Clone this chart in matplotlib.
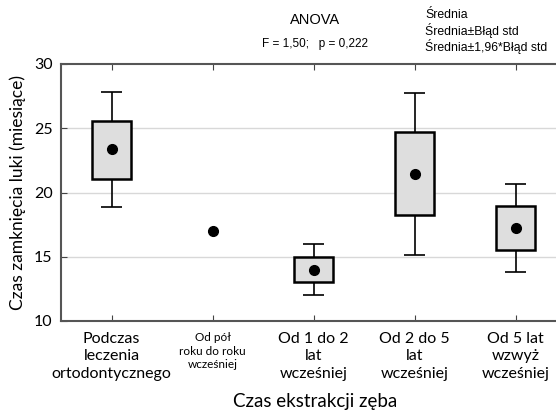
import matplotlib
matplotlib.use("Agg")
import matplotlib.pyplot as plt
from matplotlib.patches import Rectangle

categories = ["Podczas\nleczenia\nortodontycznego", "Od pół\nroku do roku\nwcześniej",
              "Od 1 do 2\nlat\nwcześniej", "Od 2 do 5\nlat\nwcześniej", "Od 5 lat\nwzwyż\nwcześniej"]
means = [23.35, 17.0, 14.0, 21.45, 17.2]
box_low = [21.05, None, 13.05, 18.25, 15.5]
box_high = [25.6, None, 15.0, 24.7, 18.98]
wh_low = [18.9, None, 12.05, 15.15, 13.8]
wh_high = [27.8, None, 16.0, 27.78, 20.67]
yticks = [10, 15, 20, 25, 30]

fig = plt.figure(figsize=(5.56, 4.16), dpi=100)
ax = fig.add_axes([61/556, 95/416, (556-61)/556, (321-64)/416])
ax.set_xlim(-0.5, 4.4)
ax.set_ylim(10, 30)

for y in [15, 20, 25]:
    ax.axhline(y, color="#d8d8d8", lw=1, zorder=0)

bw = 0.39
cw = 0.2
for i, m in enumerate(means):
    if box_low[i] is not None:
        ax.vlines(i, wh_low[i], box_low[i], color="black", lw=1.2, zorder=2)
        ax.vlines(i, box_high[i], wh_high[i], color="black", lw=1.2, zorder=2)
        ax.hlines([wh_low[i], wh_high[i]], i - cw/2, i + cw/2, color="black", lw=1.2, zorder=2)
        ax.add_patch(Rectangle((i - bw/2, box_low[i]), bw, box_high[i] - box_low[i],
                               facecolor="#dedede", edgecolor="black", lw=1.8, zorder=3))
    ax.plot(i, m, "o", color="black", ms=7, zorder=4)

ax.set_xticks(range(len(categories)))
ax.set_xticklabels([])
for i, lab in enumerate(categories):
    fs = 8.5 if i == 1 else 11.5
    ax.text(i, 9.15, lab, ha="center", va="top", fontsize=fs, family="Lato",
            linespacing=1.3, transform=ax.transData)
ax.set_yticks(yticks)
ax.set_yticklabels([str(t) for t in yticks], fontsize=11.5, family="Lato")
ax.tick_params(axis="both", direction="in", length=4, color="#444444", top=True, right=False)
ax.tick_params(axis="y", pad=6)
for s in ["left", "bottom", "top"]:
    ax.spines[s].set_color("#555555")
    ax.spines[s].set_linewidth(1.5)
ax.spines["right"].set_visible(False)

ax.set_ylabel("Czas zamknięcia luki (miesiące)", fontsize=12.5, family="Lato", labelpad=6)
fig.text(315/556, 1 - 402/416, "Czas ekstrakcji zęba", ha="center", va="center",
         fontsize=13.5, family="Lato")

fig.text(315/556, 1 - 20/416, "ANOVA", ha="center", va="center", fontsize=10.5, family="Liberation Sans")
fig.text(315/556, 1 - 44/416, "F = 1,50;   p = 0,222", ha="center", va="center", fontsize=8.5, family="Liberation Sans")
for j, t in enumerate(["Średnia", "Średnia±Błąd std", "Średnia±1,96*Błąd std"]):
    fig.text(425/556, 1 - (15 + 15.5*j)/416, t, ha="left", va="center", fontsize=8.8, family="Liberation Sans")

fig.savefig("out.png", dpi=100)
